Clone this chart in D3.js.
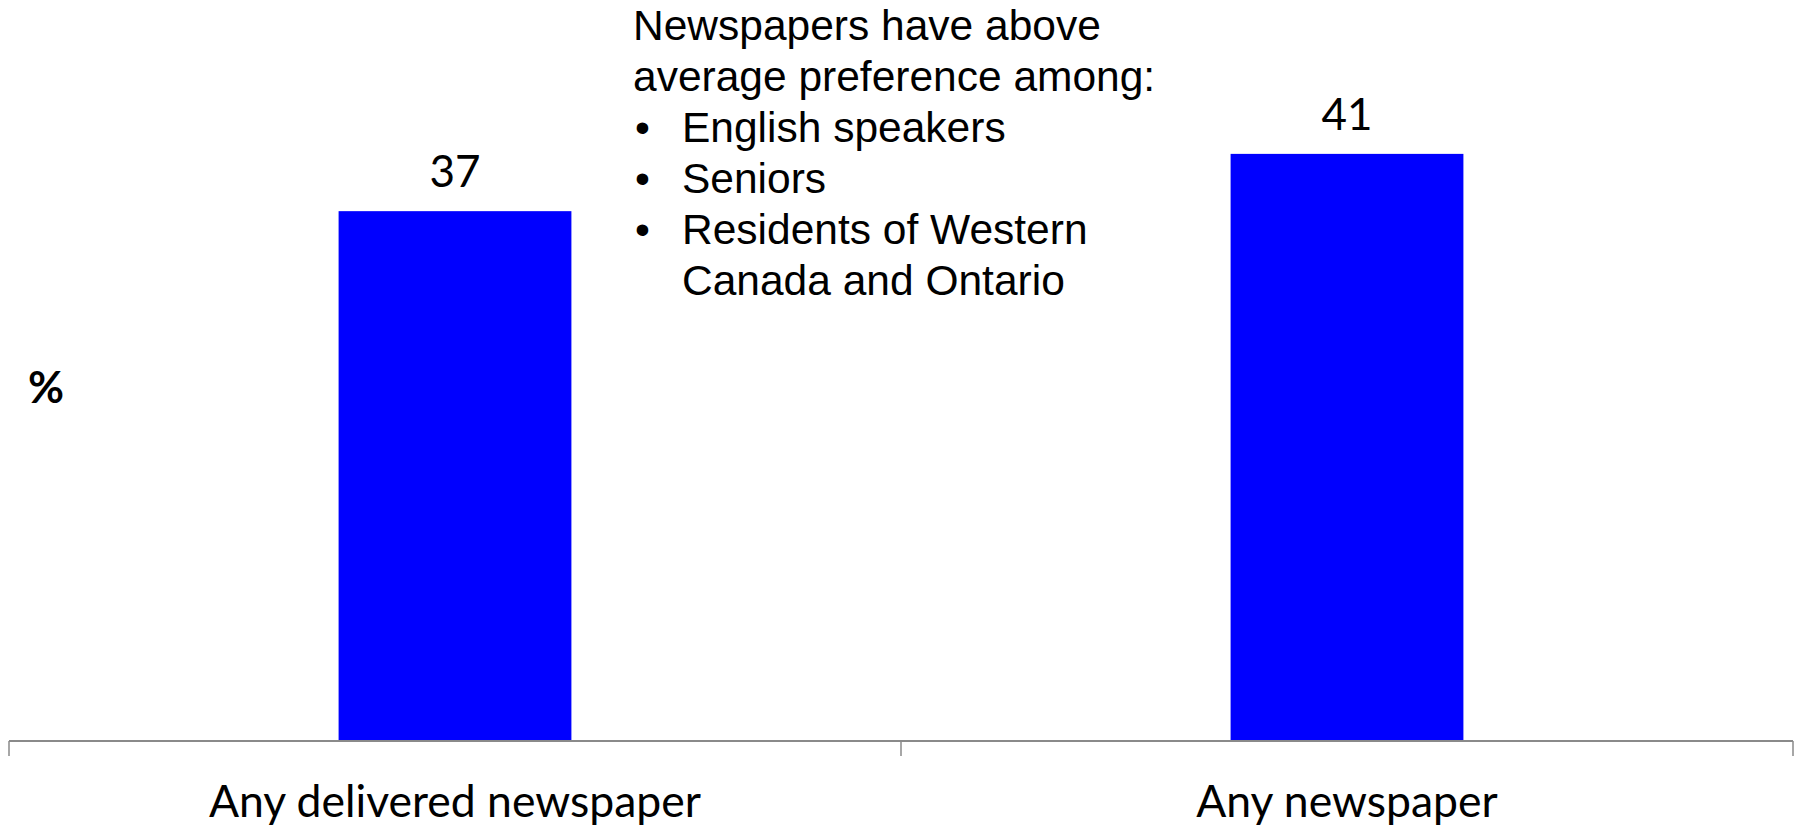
<!DOCTYPE html>
<html>
<head>
<meta charset="utf-8">
<script src="https://cdn.jsdelivr.net/npm/d3@7/dist/d3.min.js"></script>
<style>
  html, body { margin: 0; padding: 0; background: #ffffff; }
  svg { display: block; }
</style>
</head>
<body>
<svg id="chart" width="1795" height="826"></svg>
<script>
// Share of respondents (%) by newspaper type
const categories = ["Any delivered newspaper", "Any newspaper"];
const values = [37, 41];
const noteLines = [
  "Newspapers have above",
  "average preference among:"
];
const noteBullets = [
  ["English speakers"],
  ["Seniors"],
  ["Residents of Western", "Canada and Ontario"]
];

const W = 1795, H = 826;
const margin = { left: 9, right: 2, top: 25, bottom: 85 };
const baseY = H - margin.bottom;

const svg = d3.select("#chart");

const x = d3.scaleBand()
  .domain(categories)
  .range([margin.left, W - margin.right])
  .paddingInner(0)
  .paddingOuter(0);

const y = d3.scaleLinear()
  .domain([0, 50])
  .range([baseY, margin.top]);

const barFrac = 0.261;
const barW = x.bandwidth() * barFrac;
const labelFont = "Lato, 'Open Sans', sans-serif";

// Bars
svg.append("g")
  .selectAll("rect")
  .data(values)
  .join("rect")
  .attr("x", (d, i) => x(categories[i]) + (x.bandwidth() - barW) / 2)
  .attr("y", d => y(d))
  .attr("width", barW)
  .attr("height", d => baseY - y(d))
  .attr("fill", "#0000ff");

// Value labels
svg.append("g")
  .selectAll("text")
  .data(values)
  .join("text")
  .attr("x", (d, i) => x(categories[i]) + x.bandwidth() / 2)
  .attr("y", d => y(d) - 24)
  .attr("text-anchor", "middle")
  .style("font-family", labelFont)
  .style("font-size", "44px")
  .style("fill", "#000")
  .text(d => d);

// Category axis with ticks at band edges
const axisG = svg.append("g");
axisG.append("line")
  .attr("x1", margin.left).attr("x2", W - margin.right)
  .attr("y1", baseY).attr("y2", baseY)
  .attr("stroke", "#8a8a8a").attr("stroke-width", 2);

const edges = categories.map(c => x(c)).concat([x(categories[categories.length - 1]) + x.bandwidth()]);
axisG.selectAll("line.tick")
  .data(edges)
  .join("line")
  .attr("class", "tick")
  .attr("x1", d => d).attr("x2", d => d)
  .attr("y1", baseY).attr("y2", baseY + 15)
  .attr("stroke", "#8a8a8a").attr("stroke-width", 1.5);

axisG.selectAll("text")
  .data(categories)
  .join("text")
  .attr("x", d => x(d) + x.bandwidth() / 2)
  .attr("y", baseY + 76)
  .attr("text-anchor", "middle")
  .style("font-family", labelFont)
  .style("font-size", "44.5px")
  .style("fill", "#000")
  .text(d => d);

// Y-axis unit label
svg.append("text")
  .attr("x", 46)
  .attr("y", 403)
  .attr("text-anchor", "middle")
  .style("font-family", labelFont)
  .style("font-weight", "bold")
  .style("font-size", "44px")
  .style("fill", "#000")
  .text("%");

// Note text block
const note = svg.append("g")
  .style("font-family", "'Liberation Sans', Arial, sans-serif")
  .style("font-size", "42.5px")
  .style("fill", "#000");

const noteX = 633, bulletX = 635, bulletTextX = 682;
const lineH = 51;
let lineY = 40;
noteLines.forEach(t => {
  note.append("text").attr("x", noteX).attr("y", lineY).text(t);
  lineY += lineH;
});
noteBullets.forEach(item => {
  note.append("text").attr("x", bulletX).attr("y", lineY).text("\u2022");
  item.forEach(t => {
    note.append("text").attr("x", bulletTextX).attr("y", lineY).text(t);
    lineY += lineH;
  });
});
</script>
</body>
</html>
